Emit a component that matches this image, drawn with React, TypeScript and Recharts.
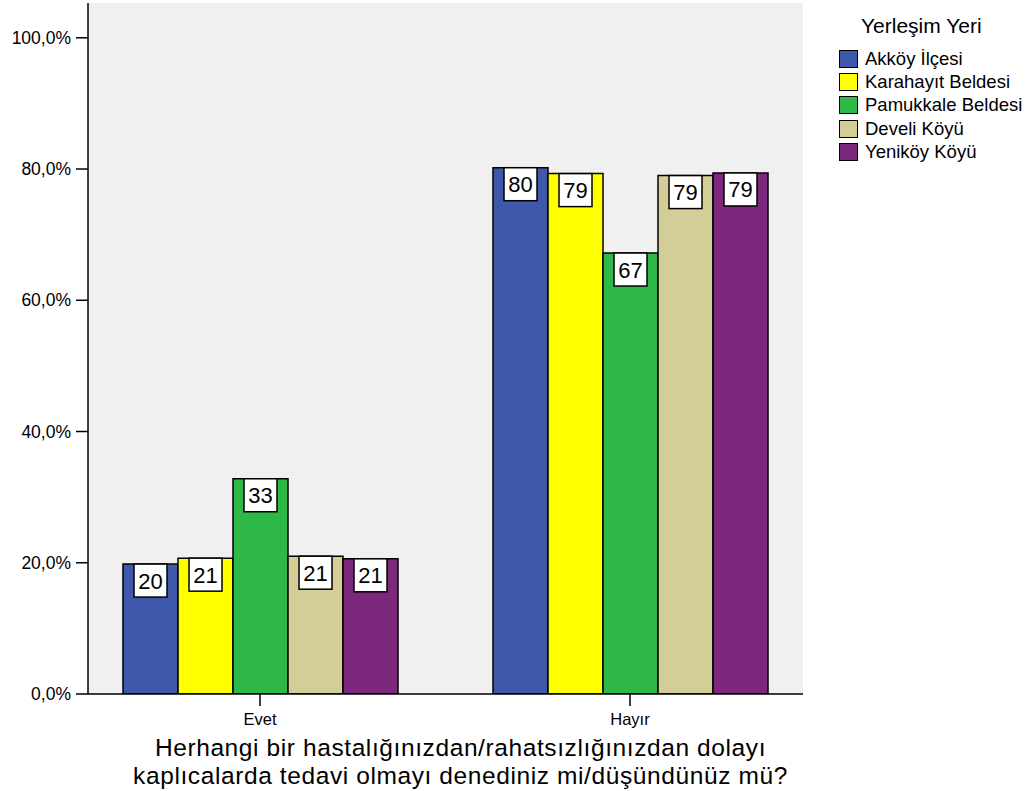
import { Bar, BarChart, CartesianGrid, LabelList, Legend, XAxis, YAxis } from "recharts";

const categories = ["Evet", "Hayır"];
const akkoyValues = [19.8, 80.2];
const karahayitValues = [20.7, 79.3];
const pamukkaleValues = [32.8, 67.2];
const develiValues = [21.0, 79.0];
const yenikoyValues = [20.6, 79.4];
const yTicks = [0, 20, 40, 60, 80, 100];

const seriesNames = ["Akköy İlçesi", "Karahayıt Beldesi", "Pamukkale Beldesi", "Develi Köyü", "Yeniköy Köyü"];
const seriesKeys = ["akkoy", "karahayit", "pamukkale", "develi", "yenikoy"];
const seriesColors = ["#3E58AC", "#FFFF00", "#2EB848", "#D3CE97", "#7C287D"];

const data = categories.map((name, i) => ({
  name,
  akkoy: akkoyValues[i],
  karahayit: karahayitValues[i],
  pamukkale: pamukkaleValues[i],
  develi: develiValues[i],
  yenikoy: yenikoyValues[i]
}));

const FONT = "'Liberation Sans', Arial, sans-serif";

function ValueBox(props: any) {
  const { x, y, width, value } = props;
  const cx = x + width / 2;
  return (
    <g>
      <rect x={cx - 16.5} y={y} width={33} height={33} fill="#fff" stroke="#000" strokeWidth={1.5} />
      <text x={cx} y={y + 24.5} textAnchor="middle" fontSize={22} fontFamily={FONT} fill="#000">
        {Math.round(value)}
      </text>
    </g>
  );
}

function AxisTitle(props: any) {
  const vb = props.viewBox;
  const cx = vb.x + vb.width / 2 + 15;
  return (
    <text textAnchor="middle" fontSize={24.5} letterSpacing={0.6} fontFamily={FONT} fill="#000">
      <tspan x={cx} y={755.5}>Herhangi bir hastalığınızdan/rahatsızlığınızdan dolayı</tspan>
      <tspan x={cx} y={783.5}>kaplıcalarda tedavi olmayı denediniz mi/düşündünüz mü?</tspan>
    </text>
  );
}

function LegendBox() {
  return (
    <div style={{ fontFamily: FONT, width: 190, color: "#000" }}>
      <div style={{ paddingLeft: 22, fontSize: 21, lineHeight: "24px", height: 24, marginBottom: 9, whiteSpace: "nowrap" }}>
        Yerleşim Yeri
      </div>
      {seriesNames.map((name, i) => (
        <div key={name} style={{ display: "flex", alignItems: "center", height: 23.4 }}>
          <span
            style={{
              display: "inline-block",
              width: 17,
              height: 16,
              background: seriesColors[i],
              border: "1.5px solid #000",
              marginRight: 7
            }}
          />
          <span style={{ fontSize: 18.5, whiteSpace: "nowrap" }}>{name}</span>
        </div>
      ))}
    </div>
  );
}

export default function App() {
  return (
    <div style={{ position: "absolute", left: 0, top: 0, background: "#fff" }}>
      <BarChart
        width={1029}
        height={791}
        data={data}
        margin={{ top: 3, right: 226, left: 0, bottom: 0 }}
        barCategoryGap={48}
        barGap={0}
      >
        <CartesianGrid fill="#F0F0F0" horizontal={false} vertical={false} />
        <XAxis
          dataKey="name"
          height={97}
          padding={{ left: -13, right: -12 }}
          tickSize={12}
          tickMargin={7}
          axisLine={{ stroke: "#000", strokeWidth: 1.5 }}
          tickLine={{ stroke: "#000", strokeWidth: 1.5 }}
          tick={{ fontSize: 16.5, fontFamily: FONT, fill: "#000" }}
          label={{ content: <AxisTitle /> }}
        />
        <XAxis
          xAxisId="top"
          orientation="top"
          height={0}
          tick={false}
          tickLine={false}
          axisLine={{ stroke: "#000", strokeWidth: 1.5 }}
        />
        <YAxis
          width={88}
          domain={[0, 105.3]}
          ticks={yTicks}
          allowDataOverflow
          tickSize={12}
          tickMargin={5}
          tickFormatter={(v: number) => v.toFixed(1).replace(".", ",") + "%"}
          axisLine={{ stroke: "#000", strokeWidth: 1.5 }}
          tickLine={{ stroke: "#000", strokeWidth: 1.5 }}
          tick={{ fontSize: 17.5, fontFamily: FONT, fill: "#000" }}
        />
        <YAxis
          yAxisId="right"
          orientation="right"
          width={0}
          tick={false}
          tickLine={false}
          axisLine={{ stroke: "#000", strokeWidth: 1.5 }}
        />
        <Legend
          content={<LegendBox />}
          layout="vertical"
          align="center"
          verticalAlign="middle"
          wrapperStyle={{ left: 839, top: 14, right: "auto", width: 190 }}
        />
        {seriesKeys.map((key, i) => (
          <Bar
            key={key}
            dataKey={key}
            name={seriesNames[i]}
            fill={seriesColors[i]}
            stroke="#000"
            strokeWidth={1.5}
            isAnimationActive={false}
          >
            <LabelList dataKey={key} content={<ValueBox />} />
          </Bar>
        ))}
      </BarChart>
    </div>
  );
}
